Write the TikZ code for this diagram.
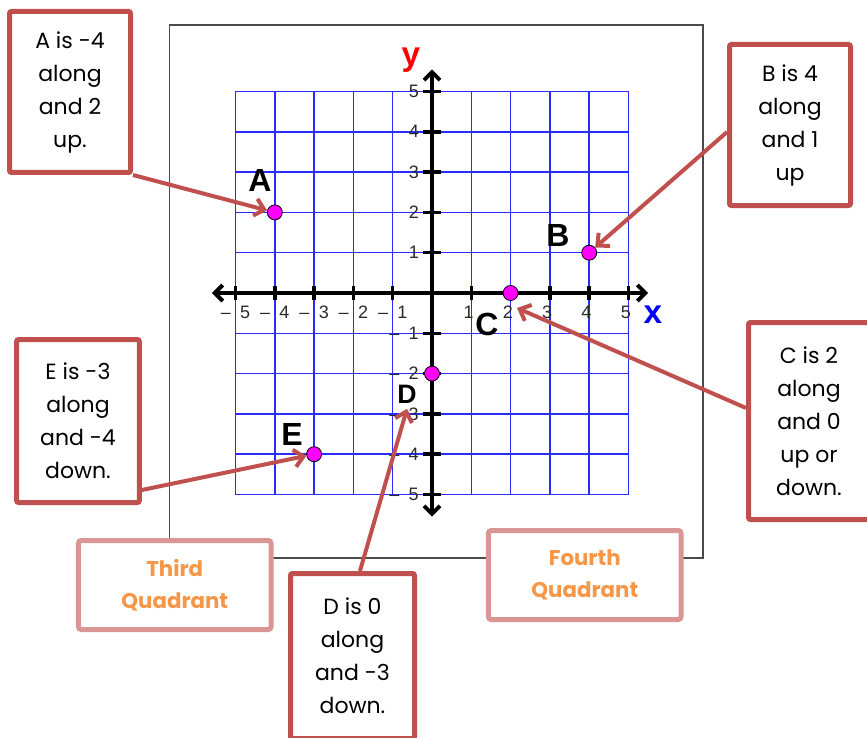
\documentclass[tikz,border=0pt]{standalone}
\usepackage{fontspec}
\setmainfont{Liberation Sans}
\newfontfamily\handfont{Poppins}
\usepackage{tikz}
\usetikzlibrary{arrows.meta}
\definecolor{boxred}{HTML}{C0504D}
\definecolor{boxpink}{HTML}{D99694}
\definecolor{quadorange}{HTML}{F79646}
\definecolor{gridblue}{HTML}{2B2BFF}
\definecolor{ticktext}{HTML}{2A2A2A}
\definecolor{framegray}{HTML}{4A4A4A}
\definecolor{dotpink}{HTML}{FF00FF}

\begin{document}
\begin{tikzpicture}[x=0.75pt,y=-0.75pt,
  notebox/.style={draw=boxred,line width=3.75pt,fill=white,rounded corners=1.5pt,align=center,inner sep=0pt,
    font=\handfont\fontsize{16.5}{24.75}\selectfont},
  quadbox/.style={draw=boxpink,line width=3.75pt,fill=white,rounded corners=2pt,align=center,inner sep=0pt,
    text=quadorange,font=\handfont\bfseries\fontsize{16}{24}\selectfont,minimum width=144.4pt,minimum height=66.75pt},
  pointer/.style={draw=boxred,line width=3pt,-{Straight Barb[length=7pt,width=13pt]}},
  dot/.style={circle,draw=black,line width=0.6pt,fill=dotpink,minimum size=11.25pt,inner sep=0pt},
  letter/.style={font=\bfseries\fontsize{24}{24}\selectfont,inner sep=0pt},
  ticklbl/.style={text=ticktext,font=\fontsize{13.5}{13.5}\selectfont,inner sep=0pt},
  axis/.style={line width=3pt,{Straight Barb[length=6pt,width=12pt]}-{Straight Barb[length=6pt,width=12pt]}}]

\useasboundingbox (0,0) rectangle (867,738);
% frame round the plane
\draw[framegray,line width=1.1pt] (169.5,25) rectangle (703,558);

% the coordinate plane, one unit per square
\begin{scope}[shift={(324pt,-219.75pt)},x=29.475pt,y=30.225pt]
\foreach \i in {-5,...,5} {
  \draw[gridblue,line width=1.1pt] (\i,-5) -- (\i,5);
  \draw[gridblue,line width=1.1pt] (-5,\i) -- (5,\i);
}
\draw[axis] (-5.6,0) -- (5.5,0);
\draw[axis] (0,-5.55) -- (0,5.55);
\foreach \i in {-5,...,-1,1,2,...,5} {
  \draw[line width=2.6pt] (\i,-0.18) -- (\i,0.18);
  \draw[line width=2.6pt] (-0.22,\i) -- (0.22,\i);
}
\foreach \i in {1,...,5} {
  \node[ticklbl] (xp\i) at (\i-0.07,-0.47) {\i};
  \node[ticklbl] (xn\i) at (-\i,-0.47) {\textendash\hspace{7pt}\i};
  \node[ticklbl,anchor=east] (yp\i) at (-0.33,\i) {\i};
  \node[ticklbl,anchor=east] (yn\i) at (-0.33,-\i) {\textendash\hspace{7pt}\i};
}
\node[dot] (ptA) at (-4,2) {};
\node[dot] (ptB) at (4,1) {};
\node[dot] (ptC) at (2,0) {};
\node[dot] (ptD) at (0,-2) {};
\node[dot] (ptE) at (-3,-4) {};
\end{scope}

\node[text=red,anchor=base,font=\bfseries\fontsize{25}{25}\selectfont,inner sep=0pt] (ylbl) at (411,66) {y};
\node[text=blue,anchor=base,font=\bfseries\fontsize{25}{25}\selectfont,inner sep=0pt] (xlbl) at (653,323) {x};

\node[letter] (Albl) at (260,180) {A};
\node[letter] (Blbl) at (558,235) {B};
\node[letter] (Clbl) at (487,324) {C};
\node[letter,font=\bfseries\fontsize{20}{20}\selectfont] (Dlbl) at (407,394) {D};
\node[letter] (Elbl) at (292,434) {E};

% notes
\node[notebox,minimum width=90.75pt,minimum height=120.75pt] (Abox) at (70,92) {A is -4\\along\\and 2\\up.};
\node[notebox,minimum width=90.75pt,minimum height=120.75pt] (Bbox) at (790,125) {B is 4\\along\\and 1\\up};
\node[notebox,minimum width=90.75pt,minimum height=147.75pt] (Cbox) at (809,421) {C is 2\\along\\and 0\\up or\\down.};
\node[notebox,minimum width=92pt,minimum height=122.25pt] (Ebox) at (78,421) {E is -3\\along\\and -4\\down.};
\node[notebox,minimum width=93pt,minimum height=123.75pt] (Dbox) at (352.5,656) {D is 0\\along\\and -3\\down.};
\node[quadbox] (third) at (174.75,585) {Third\\Quadrant};
\node[quadbox] (fourth) at (584.75,575) {Fourth\\Quadrant};

\coordinate (Ctip) at (517,308);
\draw[pointer] (Abox.south east) -- (ptA);
\draw[pointer] ([yshift=-5.25pt]Bbox.west) -- (ptB);
\draw[pointer] ([yshift=9.75pt]Cbox.west) -- (Ctip);
\draw[pointer] ([xshift=5.6pt]Dbox.north) -- ([yshift=-4pt]Dlbl.south);
\draw[pointer] ([yshift=11.25pt]Ebox.south east) -- (ptE);
\end{tikzpicture}
\end{document}
